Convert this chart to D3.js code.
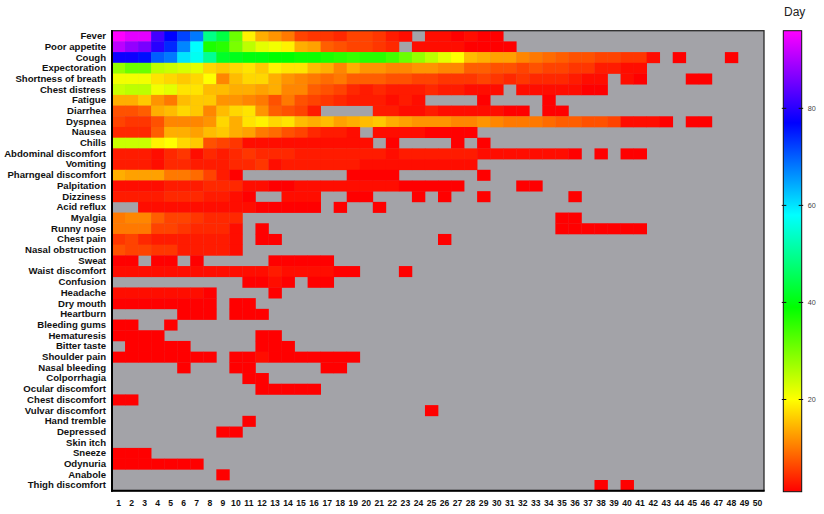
<!DOCTYPE html>
<html>
<head>
<meta charset="utf-8">
<script src="https://cdn.jsdelivr.net/npm/d3@7"></script>
<style>
  html, body { margin: 0; padding: 0; background: #ffffff; }
  svg { display: block; }
</style>
</head>
<body>
<svg id="chart" width="824" height="514"></svg>
<script>
// ---------------- DATA ----------------
const days = [1,2,3,4,5,6,7,8,9,10,11,12,13,14,15,16,17,18,19,20,21,22,23,24,25,26,27,28,29,30,31,32,33,34,35,36,37,38,39,40,41,42,43,44,45,46,47,48,49,50];

const symptoms = ["Fever","Poor appetite","Cough","Expectoration","Shortness of breath","Chest distress","Fatigue","Diarrhea","Dyspnea","Nausea","Chills","Abdominal discomfort","Vomiting","Pharngeal discomfort","Palpitation","Dizziness","Acid reflux","Myalgia","Runny nose","Chest pain","Nasal obstruction","Sweat","Waist discomfort","Confusion","Headache","Dry mouth","Heartburn","Bleeding gums","Hematuresis","Bitter taste","Shoulder pain","Nasal bleeding","Colporrhagia","Ocular discomfort","Chest discomfort","Vulvar discomfort","Hand tremble","Depressed","Skin itch","Sneeze","Odynuria","Anabole","Thigh discomfort"];

// value per day (index 0 = day 1); 0 = no record (grey)
const fever = [96,94,94,82,77,72,68,49,44,31,19,14,12,10,6,5,5,4,6,6,5,3,2,0,2,2,1,2,1,1];
const poorAppetite = [91,88,86,80,74,67,58,37,36,30,25,22,21,19,14,13,8,7,6,6,5,4,0,2,2,2,2,1,1,1,1];
const cough = [78,78,76,70,68,60,57,50,42,41,40,40,39,39,38,38,37,36,35,36,36,34,31,28,25,22,20,15,14,13,13,11,10,9,8,7,7,6,6,5,5,2,0,1,0,0,0,1];
const expectoration = [28,31,31,25,24,23,22,17,16,17,18,16,19,18,18,15,14,11,14,12,12,11,11,12,12,11,11,8,8,7,7,6,7,6,6,5,5,3,3,2,2];
const shortnessOfBreath = [21,21,21,18,17,16,17,20,11,15,17,17,14,12,11,10,9,10,8,8,8,7,7,6,6,5,5,5,6,5,4,5,4,4,4,3,2,2,0,2,1,0,0,0,1,1];
const chestDistress = [24,25,25,21,22,18,18,15,15,14,14,13,14,11,11,8,7,6,4,3,4,3,3,3,4,3,3,2,2,2,0,2,2,2,2,2,1,1];
const fatigue = [14,14,16,12,10,15,16,16,12,12,11,10,7,10,7,6,5,4,3,3,3,2,3,2,0,0,0,0,1,0,0,0,0,1];
const diarrhea = [7,7,8,14,15,17,16,11,15,17,18,12,8,7,6,3,0,0,0,0,3,3,2,2,3,2,2,2,2,2,1,1,0,1,1];
const dyspnea = [6,5,5,7,11,11,11,12,17,14,18,19,17,18,15,14,15,13,14,15,16,14,13,12,12,12,11,11,12,11,10,10,10,9,8,8,7,7,6,2,2,2,1,0,1,1];
const nausea = [4,4,4,8,14,14,13,15,16,14,13,10,9,7,6,4,3,3,2,0,2,2,2,2,1,1,1,1];
const chills = [24,24,24,19,20,17,16,7,6,5,2,2,2,2,2,2,2,2,2,2,0,1,0,0,0,0,1,0,1];
const abdominalDiscomfort = [3,3,3,2,4,5,2,4,3,4,5,4,4,4,3,3,3,3,3,3,3,2,3,3,3,3,3,3,2,2,2,2,2,2,2,1,0,1,0,1,1];
const vomiting = [3,3,3,2,4,4,3,3,3,4,4,5,2,3,3,3,3,3,3,2,2,2,2,2,2,2,2,2];
const pharngealDiscomfort = [14,13,13,13,10,10,9,6,3,1,0,0,0,0,0,0,0,0,1,1,1,1,0,0,0,0,0,0,1];
const palpitation = [2,2,2,2,3,3,3,4,4,4,2,2,1,1,2,2,2,2,2,2,2,2,1,1,1,1,1,0,0,0,0,1,1];
const dizziness = [3,3,3,3,4,4,4,3,3,2,1,0,0,2,2,2,0,0,1,1,0,0,0,1,0,1,0,0,1,0,0,0,0,0,0,1];
const acidReflux = [0,0,2,2,2,2,2,2,2,2,2,1,1,1,1,1,0,1,0,0,1];
const myalgia = [10,11,11,8,6,6,5,4,4,4,0,0,0,0,0,0,0,0,0,0,0,0,0,0,0,0,0,0,0,0,0,0,0,0,1,1];
const runnyNose = [10,10,10,6,6,5,4,4,4,2,0,1,0,0,0,0,0,0,0,0,0,0,0,0,0,0,0,0,0,0,0,0,0,0,1,1,1,1,1,1,1];
const chestPain = [5,6,4,3,3,3,3,3,3,2,0,1,1,0,0,0,0,0,0,0,0,0,0,0,0,1];
const nasalObstruction = [7,6,6,5,5,3,3,3,3,2];
const sweat = [1,1,0,1,1,0,1,0,0,0,0,0,1,1,1,1,1];
const waistDiscomfort = [2,2,2,2,2,2,2,2,2,2,2,2,3,2,2,2,2,1,1,0,0,0,1];
const confusion = [0,0,0,0,0,0,0,0,0,0,1,1,2,1,0,1,1];
const headache = [2,2,2,2,2,2,2,1,0,0,0,0,1];
const dryMouth = [1,1,1,1,1,1,1,1,0,1,1];
const heartburn = [0,0,0,0,0,1,1,1,0,1,1,1];
const bleedingGums = [1,1,0,0,1];
const hematuresis = [1,1,1,1,0,0,0,0,0,0,0,1,1];
const bitterTaste = [0,1,1,1,1,1,0,0,0,0,0,1,1,1];
const shoulderPain = [1,1,1,1,1,1,1,1,0,1,1,2,1,1,1,1,1,1,1];
const nasalBleeding = [0,0,0,0,0,1,0,0,0,1,1,0,0,0,0,0,1,1];
const colporrhagia = [0,0,0,0,0,0,0,0,0,0,1,1];
const ocularDiscomfort = [0,0,0,0,0,0,0,0,0,0,0,1,1,1,1,1];
const chestDiscomfort = [1,1];
const vulvarDiscomfort = [0,0,0,0,0,0,0,0,0,0,0,0,0,0,0,0,0,0,0,0,0,0,0,0,1];
const handTremble = [0,0,0,0,0,0,0,0,0,0,1];
const depressed = [0,0,0,0,0,0,0,0,1,1];
const skinItch = [];
const sneeze = [1,1,1];
const odynuria = [1,1,1,1,1,1,1];
const anabole = [0,0,0,0,0,0,0,0,1];
const thighDiscomfort = [0,0,0,0,0,0,0,0,0,0,0,0,0,0,0,0,0,0,0,0,0,0,0,0,0,0,0,0,0,0,0,0,0,0,0,0,0,1,0,1];

const rowValues = [fever, poorAppetite, cough, expectoration, shortnessOfBreath, chestDistress, fatigue, diarrhea, dyspnea, nausea, chills, abdominalDiscomfort, vomiting, pharngealDiscomfort, palpitation, dizziness, acidReflux, myalgia, runnyNose, chestPain, nasalObstruction, sweat, waistDiscomfort, confusion, headache, dryMouth, heartburn, bleedingGums, hematuresis, bitterTaste, shoulderPain, nasalBleeding, colporrhagia, ocularDiscomfort, chestDiscomfort, vulvarDiscomfort, handTremble, depressed, skinItch, sneeze, odynuria, anabole, thighDiscomfort];

const colorbarTicks = [20, 40, 60, 80];
const colorbarDomain = [1, 96];
const colorbarTitle = "Day";

// ---------------- DRAW ----------------
const svg = d3.select("#chart");
const font = "'Liberation Sans', Arial, Helvetica, sans-serif";

const plot = { left: 112, right: 764, top: 30.7, bottom: 490.7 };

const x = d3.scaleBand().domain(days).range([plot.left, plot.right]).padding(0);
const y = d3.scaleBand().domain(symptoms).range([plot.top, plot.bottom]).padding(0);
const hue = d3.scaleLinear().domain(colorbarDomain).range([0, 300]).clamp(true);
const color = v => d3.hsl(hue(v), 1, 0.5).formatRgb();

// grey background
svg.append("rect")
  .attr("x", plot.left).attr("y", plot.top)
  .attr("width", plot.right - plot.left).attr("height", plot.bottom - plot.top)
  .attr("fill", "#a3a3a8");

const cells = [];
symptoms.forEach((s, i) => {
  const vals = rowValues[i];
  days.forEach((d, j) => {
    const v = vals[j];
    if (v && v > 0) cells.push({ symptom: s, day: d, value: v });
  });
});

svg.append("g").selectAll("rect")
  .data(cells)
  .join("rect")
  .attr("x", d => x(d.day))
  .attr("y", d => y(d.symptom))
  .attr("width", x.bandwidth() + 0.35)
  .attr("height", y.bandwidth() + 0.35)
  .attr("fill", d => color(d.value));

// frame
svg.append("rect")
  .attr("x", plot.left).attr("y", plot.top)
  .attr("width", plot.right - plot.left).attr("height", plot.bottom - plot.top)
  .attr("fill", "none").attr("stroke", "#2a2a2a").attr("stroke-width", 1.3);
svg.append("line")
  .attr("x1", plot.left).attr("x2", plot.left).attr("y1", plot.top - 0.6).attr("y2", plot.bottom + 1)
  .attr("stroke", "#000").attr("stroke-width", 2);
svg.append("line")
  .attr("x1", plot.left - 1).attr("x2", plot.right + 0.6).attr("y1", plot.bottom).attr("y2", plot.bottom)
  .attr("stroke", "#000").attr("stroke-width", 2);

// y axis labels
const yAxis = svg.append("g")
  .attr("transform", `translate(${plot.left},0)`)
  .call(d3.axisLeft(y).tickSize(0).tickPadding(6));
yAxis.select(".domain").remove();
yAxis.selectAll("text")
  .attr("font-family", font).attr("font-size", "9.6px").attr("font-weight", "bold").attr("fill", "#111");

// x axis labels
const xAxis = svg.append("g")
  .attr("transform", `translate(0,${plot.bottom})`)
  .call(d3.axisBottom(x).tickSize(0).tickPadding(9));
xAxis.select(".domain").remove();
xAxis.selectAll("text")
  .attr("font-family", font).attr("font-size", "8.6px").attr("font-weight", "bold").attr("fill", "#111");

// colour bar
const cb = { left: 783.3, width: 18.4, top: 30.7, bottom: 491.7 };
const cScale = d3.scaleLinear().domain(colorbarDomain).range([cb.bottom, cb.top]);
const defs = svg.append("defs");
const grad = defs.append("linearGradient").attr("id", "cbgrad")
  .attr("x1", 0).attr("y1", 1).attr("x2", 0).attr("y2", 0);
const nStops = 40;
d3.range(nStops + 1).forEach(k => {
  const v = colorbarDomain[0] + (colorbarDomain[1] - colorbarDomain[0]) * k / nStops;
  grad.append("stop").attr("offset", (k / nStops * 100) + "%").attr("stop-color", color(v));
});
svg.append("rect")
  .attr("x", cb.left).attr("y", cb.top).attr("width", cb.width).attr("height", cb.bottom - cb.top)
  .attr("fill", "url(#cbgrad)").attr("stroke", "#111").attr("stroke-width", 1);

const cAxis = svg.append("g")
  .attr("transform", `translate(${cb.left + cb.width},0)`)
  .call(d3.axisRight(cScale).tickValues(colorbarTicks).tickSize(0).tickPadding(6).tickFormat(d3.format("d")));
cAxis.select(".domain").remove();
cAxis.selectAll("text")
  .attr("font-family", font).attr("font-size", "7.2px").attr("fill", "#444");

const tickG = svg.append("g");
colorbarTicks.forEach(t => {
  const ty = cScale(t);
  tickG.append("line").attr("x1", cb.left - 1.5).attr("x2", cb.left + 3).attr("y1", ty).attr("y2", ty)
    .attr("stroke", "#111").attr("stroke-width", 1);
  tickG.append("line").attr("x1", cb.left + cb.width - 3).attr("x2", cb.left + cb.width + 1.5).attr("y1", ty).attr("y2", ty)
    .attr("stroke", "#111").attr("stroke-width", 1);
});

svg.append("text")
  .attr("x", 784).attr("y", 16)
  .attr("font-family", font).attr("font-size", "12px").attr("fill", "#222")
  .text(colorbarTitle);
</script>
</body>
</html>
